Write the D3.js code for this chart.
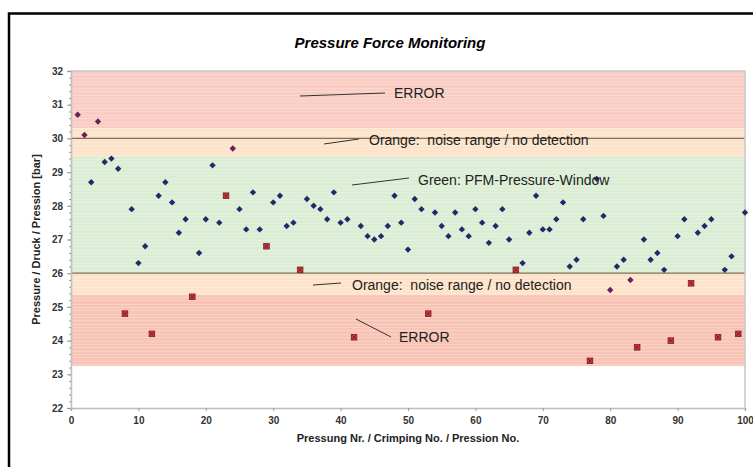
<!DOCTYPE html>
<html>
<head>
<meta charset="utf-8">
<script src="https://cdn.jsdelivr.net/npm/d3@7"></script>
<style>
  body { margin: 0; background: #fff; }
  svg { display: block; font-family: "Liberation Sans", Arial, sans-serif; }
</style>
</head>
<body>
<svg id="chart" width="753" height="467"></svg>
<script>
// pressures inside the window (blue diamonds)
var okNr = [3,5,6,7,9,10,11,13,14,15,16,17,19,20,21,22,25,26,27,28,30,31,32,33,35,36,37,38,39,40,41,43,44,45,46,47,48,49,50,51,52,54,55,56,57,58,59,60,61,62,63,64,65,67,68,69,70,71,72,73,74,75,76,78,79,81,82,85,86,87,88,90,91,93,94,95,97,98,100]
var okVal = [28.7,29.3,29.4,29.1,27.9,26.3,26.8,28.3,28.7,28.1,27.2,27.6,26.6,27.6,29.2,27.5,27.9,27.3,28.4,27.3,28.1,28.3,27.4,27.5,28.2,28.0,27.9,27.6,28.4,27.5,27.6,27.4,27.1,27.0,27.1,27.4,28.3,27.5,26.7,28.2,27.9,27.8,27.4,27.1,27.8,27.3,27.1,27.9,27.5,26.9,27.4,27.9,27.0,26.3,27.2,28.3,27.3,27.3,27.6,28.1,26.2,26.4,27.6,28.8,27.7,26.2,26.4,27.0,26.4,26.6,26.1,27.1,27.6,27.2,27.4,27.6,26.1,26.5,27.8]
// pressures in the noise range (purple diamonds)
var noiseNr = [1,2,4,24,80,83]
var noiseVal = [30.7,30.1,30.5,29.7,25.5,25.8]
// flagged errors (red squares)
var errNr = [8,12,18,23,29,34,42,53,66,77,84,89,92,96,99]
var errVal = [24.8,24.2,25.3,28.3,26.8,26.1,24.1,24.8,26.1,23.4,23.8,24.0,25.7,24.1,24.2]

// zones [from, to, colour]
var zoneFrom = [30.3, 29.45, 26, 25.35, 23.25]
var zoneTo = [32, 30.3, 29.45, 26, 25.35]
var zoneColor = ["#f9cdc4", "#fde3c9", "#dcedd5", "#fde3c9", "#f8c4b6"]
var limitLines = [30, 26]

var xTicks = [0,10,20,30,40,50,60,70,80,90,100]
var yTicks = [22,23,24,25,26,27,28,29,30,31,32]

var svg = d3.select("#chart")

// outer frame
svg.append("rect")
    .attr("x", 9).attr("y", 13.5)
    .attr("width", 760).attr("height", 470)
    .attr("fill", "none")
    .attr("stroke", "#000")
    .attr("stroke-width", 2.5)

var pLeft = 71, pRight = 745, pTop = 71, pBottom = 408

var x = d3.scaleLinear().domain([0, 100]).range([pLeft, pRight])
var y = d3.scaleLinear().domain([22, 32]).range([pBottom, pTop])

// zones
svg.append("g").selectAll("rect")
    .data(zoneFrom)
    .enter().append("rect")
    .attr("x", pLeft)
    .attr("width", pRight - pLeft)
    .attr("y", (d, i) => y(zoneTo[i]))
    .attr("height", (d, i) => y(zoneFrom[i]) - y(zoneTo[i]))
    .attr("fill", (d, i) => zoneColor[i])

// faint stripe texture over the zones
var stripes = d3.range(23.3, 32, 0.1)
svg.append("g").selectAll("line")
    .data(stripes)
    .enter().append("line")
    .attr("x1", pLeft).attr("x2", pRight)
    .attr("y1", d => Math.round(y(d)) + 0.5)
    .attr("y2", d => Math.round(y(d)) + 0.5)
    .attr("stroke", "#fff")
    .attr("stroke-opacity", 0.22)

// limit lines
svg.append("g").selectAll("line")
    .data(limitLines)
    .enter().append("line")
    .attr("x1", pLeft).attr("x2", pRight)
    .attr("y1", d => y(d)).attr("y2", d => y(d))
    .attr("stroke", "#7d7060")
    .attr("stroke-width", 1.2)

// plot frame (top/right)
svg.append("path")
    .attr("d", "M" + pLeft + "," + pTop + "H" + pRight + "V" + pBottom)
    .attr("fill", "none")
    .attr("stroke", "#c8c8c8")
    .attr("stroke-width", 1.5)

// axes
var xAxis = svg.append("g")
    .attr("transform", "translate(0," + pBottom + ")")
    .call(d3.axisBottom(x).tickValues(xTicks).tickSize(3).tickPadding(6))
var yAxis = svg.append("g")
    .attr("transform", "translate(" + pLeft + ",0)")
    .call(d3.axisLeft(y).tickValues(yTicks).tickSize(4).tickPadding(4))
var yMinor = svg.append("g")
    .attr("transform", "translate(" + pLeft + ",0)")
    .call(d3.axisLeft(y).tickValues(d3.range(22.2, 32, 0.2)).tickSize(2).tickFormat(""))

;[xAxis, yAxis, yMinor].forEach(function(a) {
    a.select(".domain").attr("stroke", "#bdbdbd").attr("stroke-width", 1.5)
    a.selectAll(".tick line").attr("stroke", "#9a9a9a")
    a.selectAll("text")
        .attr("fill", "#333")
        .style("font-size", "10px")
        .style("font-weight", "bold")
        .style("font-family", "'Liberation Sans', Arial, sans-serif")
})
yMinor.select(".domain").remove()

// points
var diamond = d3.symbol().type(d3.symbolDiamond2).size(26)

svg.append("g").selectAll("path")
    .data(okNr)
    .enter().append("path")
    .attr("d", diamond)
    .attr("transform", (d, i) => "translate(" + x(d) + "," + y(okVal[i]) + ")")
    .attr("fill", "#1d2b6b")

svg.append("g").selectAll("path")
    .data(noiseNr)
    .enter().append("path")
    .attr("d", diamond)
    .attr("transform", (d, i) => "translate(" + x(d) + "," + y(noiseVal[i]) + ")")
    .attr("fill", "#6a1f5e")

var errG = svg.append("g").selectAll("g")
    .data(errNr)
    .enter().append("g")
    .attr("transform", (d, i) => "translate(" + x(d) + "," + y(errVal[i]) + ")")
errG.append("rect")
    .attr("x", -2.8).attr("y", -2.8)
    .attr("width", 5.6).attr("height", 5.6)
    .attr("fill", "#cf3a44")
    .attr("stroke", "#7a1e22")
    .attr("stroke-width", 0.8)
errG.append("path")
    .attr("d", "M-2,-2L2,2M2,-2L-2,2")
    .attr("stroke", "#6a1418")
    .attr("stroke-width", 0.8)

// annotations
var notes = [
  {t: "ERROR", tx: 394, ty: 98, l: [300, 96, 385, 93]},
  {t: "Orange:  noise range / no detection", tx: 369, ty: 145, l: [324, 144, 359, 139]},
  {t: "Green: PFM-Pressure-Window", tx: 418, ty: 185, l: [352, 185, 409, 178]},
  {t: "Orange:  noise range / no detection", tx: 352, ty: 290, l: [313, 285, 341, 283]},
  {t: "ERROR", tx: 399, ty: 342, l: [356, 319, 391, 337]}
]
var ann = svg.append("g")
ann.selectAll("line")
    .data(notes)
    .enter().append("line")
    .attr("x1", d => d.l[0]).attr("y1", d => d.l[1])
    .attr("x2", d => d.l[2]).attr("y2", d => d.l[3])
    .attr("stroke", "#333")
    .attr("stroke-width", 1)
ann.selectAll("text")
    .data(notes)
    .enter().append("text")
    .attr("x", d => d.tx).attr("y", d => d.ty)
    .attr("fill", "#222")
    .style("font-size", "14px")
    .style("white-space", "pre")
    .text(d => d.t)

// title and axis titles
svg.append("text")
    .attr("x", 390).attr("y", 48)
    .attr("text-anchor", "middle")
    .style("font-size", "15px")
    .style("font-weight", "bold")
    .style("font-style", "italic")
    .text("Pressure Force Monitoring")

svg.append("text")
    .attr("x", 408).attr("y", 442)
    .attr("text-anchor", "middle")
    .style("font-size", "11px")
    .style("font-weight", "bold")
    .attr("fill", "#222")
    .text("Pressung Nr. / Crimping No. / Pression No.")

svg.append("text")
    .attr("transform", "translate(40," + ((pTop + pBottom) / 2) + ") rotate(-90)")
    .attr("text-anchor", "middle")
    .style("font-size", "11px")
    .style("font-weight", "bold")
    .attr("fill", "#222")
    .text("Pressure / Druck / Pression [bar]")
</script>
</body>
</html>
